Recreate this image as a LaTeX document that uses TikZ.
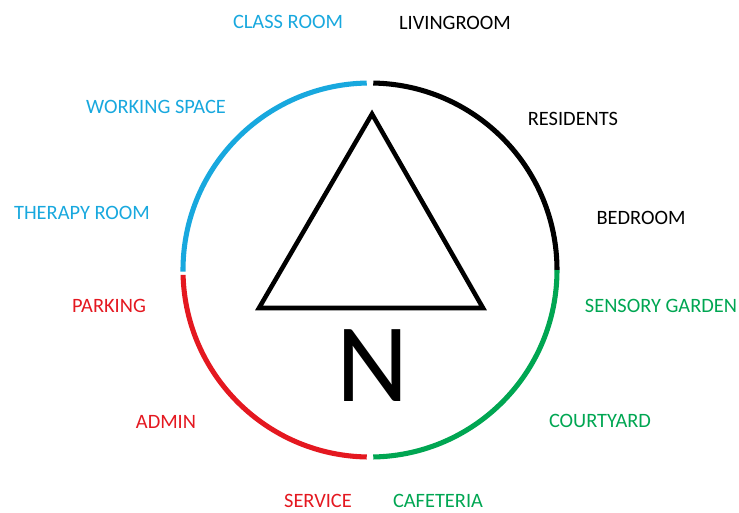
\documentclass[tikz,border=0pt]{standalone}
\usepackage{fontspec}
\setmainfont{Carlito}
\definecolor{zoneblue}{RGB}{24,168,222}
\definecolor{zonered}{RGB}{228,24,32}
\definecolor{zonegreen}{RGB}{0,166,82}
\tikzset{
  zone/.style={font=\fontsize{15.3}{17}\selectfont, anchor=center, inner sep=0pt},
  ring/.style={line width=3.8pt},
}
\begin{document}
\begin{tikzpicture}[x=0.75pt, y=-0.75pt]
        \useasboundingbox (0,0) rectangle (739,512);
        % Compass
        \coordinate (c) at (370,270);
        \draw[ring, zoneblue] (c) ++(91:140.25pt) arc[start angle=91, end angle=180.5, radius=140.25pt];
        \draw[ring, black] (c) ++(89:140.25pt) arc[start angle=89, end angle=0, radius=140.25pt];
        \draw[ring, zonegreen] (c) ++(0:140.25pt) arc[start angle=0, end angle=-89, radius=140.25pt];
        \draw[ring, zonered] (c) ++(-91:140.25pt) arc[start angle=-91, end angle=-178.5, radius=140.25pt];
        \draw[line width=3.4pt] (372,114) -- (483,308) -- (259,308) -- cycle;
        \node (north) at (373,366) {\fontsize{84}{84}\selectfont N};

        % Labels
        \node (classroom) [zone, zoneblue] at (288,22) {CLASS ROOM};
        \node (living) [zone] at (455,23) {LIVINGROOM};
        \node (working) [zone, zoneblue] at (156,107) {WORKING SPACE};
        \node (residents) [zone] at (573,119) {RESIDENTS};
        \node (therapy) [zone, zoneblue] at (82,213) {THERAPY ROOM};
        \node (bedroom) [zone] at (641,218) {BEDROOM};
        \node (parking) [zone, zonered] at (109,306) {PARKING};
        \node (sensory) [zone, zonegreen] at (661,306) {SENSORY GARDEN};
        \node (admin) [zone, zonered] at (166,422) {ADMIN};
        \node (courtyard) [zone, zonegreen] at (600,421) {COURTYARD};
        \node (service) [zone, zonered] at (318,501) {SERVICE};
        \node (cafeteria) [zone, zonegreen] at (438,501) {CAFETERIA};
\end{tikzpicture}
\end{document}
